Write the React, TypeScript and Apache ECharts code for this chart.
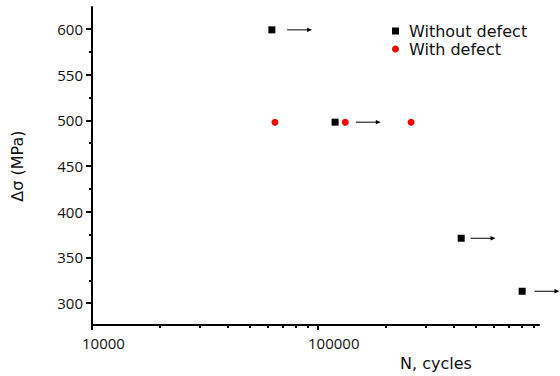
import React, { useEffect, useRef } from "react";
import * as echarts from "echarts";

// Without defect (run-outs, black squares): cycles N, stress range (MPa)
const withoutDefectN = [62500, 119000, 430000, 800000];
const withoutDefectS = [599, 498, 371, 313];
// With defect (red circles)
const withDefectN = [64500, 132000, 258000];
const withDefectS = [498, 498, 498];
// Run-out arrows: tail position (cycles) for each "without defect" point
const arrowTailN = [73000, 147000, 473000, 907000];

// Axis ticks
const xMinorTicks = [
  20000, 30000, 40000, 50000, 60000, 70000, 80000, 90000,
  200000, 300000, 400000, 500000, 600000, 700000, 800000, 900000,
];
const yMajorTicks = [300, 350, 400, 450, 500, 550, 600];
const yMinorTicks = [325, 375, 425, 475, 525, 575];

const X_MIN = 10000;
const X_MAX = 950000;
const Y_MIN = 276;
const Y_MAX = 624;

const NAME_FONT = "DejaVu Sans";
const TICK_FONT = "Open Sans";

export default function App() {
  const ref = useRef<HTMLDivElement>(null);

  useEffect(() => {
    if (!ref.current) return;
    const chart = echarts.init(ref.current, undefined, { renderer: "svg" });

    const withoutData = withoutDefectN.map((n, i) => [n, withoutDefectS[i]]);
    const withData = withDefectN.map((n, i) => [n, withDefectS[i]]);
    const arrowData = arrowTailN.map((n, i) => [n, withoutDefectS[i]]);

    const option: any = {
      animation: false,
      backgroundColor: "#ffffff",
      grid: { left: 92, right: 21, top: 7, bottom: 48, containLabel: false },
      legend: {
        orient: "vertical",
        left: 387,
        top: 18,
        itemWidth: 7,
        itemHeight: 7,
        itemGap: 2,
        selectedMode: false,
        textStyle: {
          fontFamily: NAME_FONT,
          fontSize: 16,
          lineHeight: 16,
          color: "#111111",
          padding: [0, 0, 0, 5],
        },
        data: [
          { name: "Without defect", icon: "rect" },
          { name: "With defect", icon: "circle" },
        ],
      },
      xAxis: [
        {
          type: "log",
          logBase: 10,
          min: X_MIN,
          max: X_MAX,
          position: "bottom",
          name: "N, cycles",
          nameLocation: "middle",
          nameGap: 28,
          nameTextStyle: {
            fontFamily: NAME_FONT,
            fontSize: 16,
            color: "#111111",
            padding: [0, 0, 0, 241],
          },
          axisLine: { show: true, lineStyle: { color: "#000", width: 2 } },
          axisTick: {
            show: true,
            length: 5,
            lineStyle: { color: "#000", width: 2 },
          },
          axisLabel: {
            show: true,
            showMinLabel: true,
            showMaxLabel: false,
            margin: 10,
            align: "left",
            padding: [0, 0, 0, -10],
            fontFamily: TICK_FONT,
            fontSize: 15,
            color: "#111111",
            formatter: (v: number) => String(Math.round(v)),
          },
          splitLine: { show: false },
        },
        {
          type: "value",
          min: Math.log10(X_MIN),
          max: Math.log10(X_MAX),
          position: "bottom",
          offset: 0,
          axisLine: { show: false },
          axisTick: {
            show: true,
            length: 3,
            lineStyle: { color: "#000", width: 2 },
            customValues: xMinorTicks.map((v) => Math.log10(v)),
          },
          axisLabel: { show: false },
          splitLine: { show: false },
        },
      ],
      yAxis: [
        {
          type: "value",
          min: Y_MIN,
          max: Y_MAX,
          position: "left",
          name: "\u0394\u03c3 (MPa)",
          nameLocation: "middle",
          nameGap: 67,
          nameTextStyle: { fontFamily: NAME_FONT, fontSize: 16, color: "#111111" },
          axisLine: { show: true, lineStyle: { color: "#000", width: 2 } },
          axisTick: {
            show: true,
            length: 6,
            lineStyle: { color: "#000", width: 2 },
            customValues: yMajorTicks,
          },
          axisLabel: {
            show: true,
            customValues: yMajorTicks,
            margin: 9,
            fontFamily: TICK_FONT,
            fontSize: 15,
            color: "#111111",
          },
          splitLine: { show: false },
        },
        {
          type: "value",
          min: Y_MIN,
          max: Y_MAX,
          position: "left",
          offset: 0,
          axisLine: { show: false },
          axisTick: {
            show: true,
            length: 3,
            lineStyle: { color: "#000", width: 2 },
            customValues: yMinorTicks,
          },
          axisLabel: { show: false },
          splitLine: { show: false },
        },
      ],
      series: [
        {
          name: "Without defect",
          type: "scatter",
          xAxisIndex: 0,
          yAxisIndex: 0,
          symbol: "rect",
          symbolSize: 7,
          itemStyle: { color: "#000000", opacity: 1 },
          data: withoutData,
          z: 3,
        },
        {
          name: "With defect",
          type: "scatter",
          xAxisIndex: 0,
          yAxisIndex: 0,
          symbol: "circle",
          symbolSize: 7,
          itemStyle: { color: "#ff0000", opacity: 1 },
          data: withData,
          z: 3,
        },
        {
          name: "run-out",
          type: "custom",
          xAxisIndex: 0,
          yAxisIndex: 0,
          clip: false,
          silent: true,
          data: arrowData,
          renderItem: (_params: any, api: any) => {
            const p = api.coord([api.value(0), api.value(1)]);
            const x = p[0];
            const y = p[1];
            return {
              type: "group",
              children: [
                {
                  type: "line",
                  shape: { x1: x, y1: y, x2: x + 21, y2: y },
                  style: { stroke: "#000", lineWidth: 1 },
                },
                {
                  type: "polygon",
                  shape: { points: [[x + 20, y - 2.2], [x + 25, y], [x + 20, y + 2.2]] },
                  style: { fill: "#000" },
                },
              ],
            };
          },
        },
      ],
    };

    chart.setOption(option);
    return () => chart.dispose();
  }, []);

  return (
    <div
      ref={ref}
      style={{ position: "fixed", left: 0, top: 0, width: 560, height: 376, background: "#fff" }}
    />
  );
}
